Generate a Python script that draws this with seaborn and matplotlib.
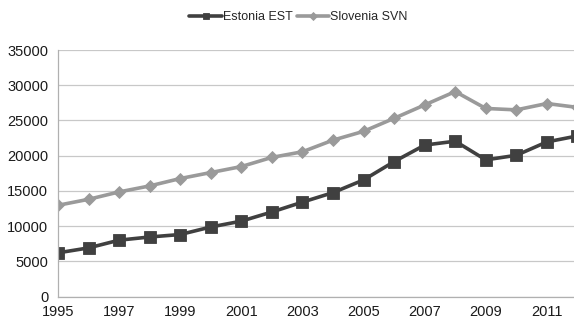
import numpy as np
import pandas as pd
import matplotlib
matplotlib.use("Agg")
import matplotlib.pyplot as plt
import seaborn as sns

years = list(range(1995, 2013))
estonia = [6200, 6900, 8000, 8450, 8800, 9870, 10700, 12000, 13400, 14750,
           16550, 19150, 21500, 22050, 19400, 20050, 21950, 22800]
slovenia = [12950, 13800, 14850, 15700, 16750, 17600, 18450, 19750, 20550, 22200,
            23450, 25300, 27200, 29100, 26700, 26500, 27400, 26850]
series_names = ["Estonia EST", "Slovenia SVN"]
xtick_labels = [str(y) for y in range(1995, 2012, 2)]
yticks = list(range(0, 35001, 5000))

df = pd.concat([
    pd.DataFrame({"year": years, "value": estonia, "country": series_names[0]}),
    pd.DataFrame({"year": years, "value": slovenia, "country": series_names[1]}),
])

sns.set_style("white")
plt.rcParams["font.family"] = ["Liberation Sans", "DejaVu Sans"]

fig = plt.figure(figsize=(5.74, 3.2), dpi=100)
ax = fig.add_axes([58/574, (320-296.5)/320, 1 - 58/574 + 0.006, (296.5-50)/320])

palette = {series_names[0]: "#404040", series_names[1]: "#9a9a9a"}
sns.lineplot(data=df, x="year", y="value", hue="country", style="country",
             palette=palette, markers={series_names[0]: "s", series_names[1]: "D"},
             dashes=False, linewidth=2.6, markersize=8, markeredgewidth=0.6,
             ax=ax, legend=True, clip_on=True)
for line in ax.lines:
    c = line.get_color()
    line.set_markeredgecolor(c)
ax.lines[1].set_markersize(6.5)

ax.set_xlim(1995, 2012)
ax.set_ylim(0, 35000)
ax.set_yticks(yticks)
ax.set_xticks(range(1995, 2013))
ax.set_xticklabels([str(y) if (y - 1995) % 2 == 0 and y <= 2011 else "" for y in range(1995, 2013)])
ax.yaxis.grid(True, color="#c8c8c8", linewidth=0.9)
ax.xaxis.grid(False)
for s in ["top", "right"]:
    ax.spines[s].set_visible(False)
for s in ["left", "bottom"]:
    ax.spines[s].set_color("#b0b0b0")
    ax.spines[s].set_linewidth(0.9)
ax.tick_params(axis="both", which="both", length=4, color="#b0b0b0", width=0.9,
               labelsize=10.5, labelcolor="#1a1a1a", direction="out", pad=2)
ax.tick_params(axis="y", pad=3)
ax.set_xlabel("")
ax.set_ylabel("")

handles, labels = ax.get_legend_handles_labels()
leg = ax.legend(handles, labels, loc="center", frameon=False, markerscale=0.55,
                ncol=2, fontsize=9, handlelength=2.6, handletextpad=0.1, columnspacing=0.3)
leg.set_bbox_to_anchor((0.52, 1 - 17/320), transform=fig.transFigure)

fig.savefig("out.png", dpi=100)
